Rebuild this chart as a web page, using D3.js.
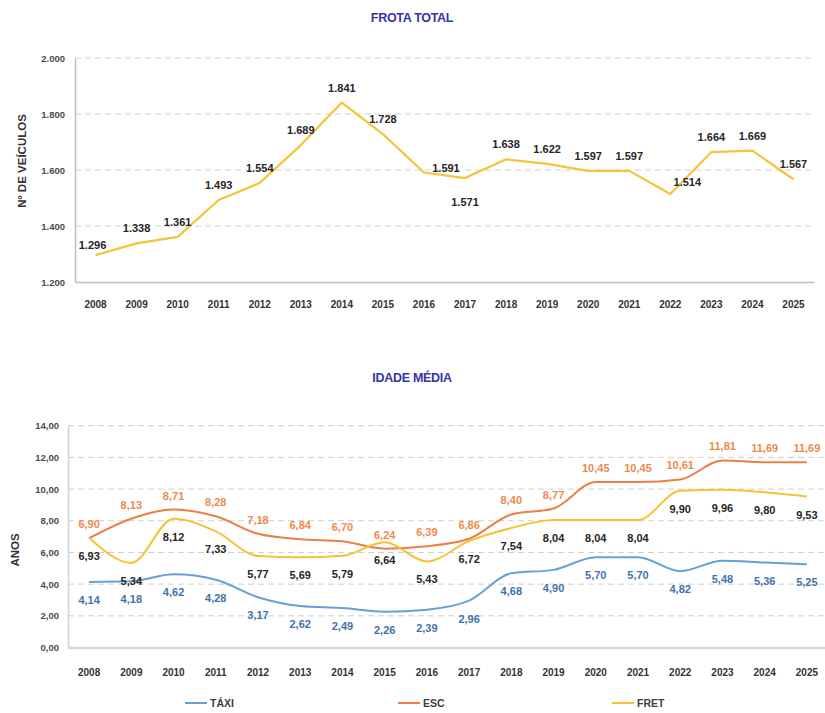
<!DOCTYPE html>
<html>
<head>
<meta charset="utf-8">
<script src="https://cdn.jsdelivr.net/npm/d3@7"></script>
<style>
  html, body { margin: 0; padding: 0; background: #fff; }
  svg { display: block; font-family: "Liberation Sans", Arial, sans-serif; }
</style>
</head>
<body>
<svg id="chart" width="825" height="713"></svg>
<script>
// Fleet size and average age per year
const years = ["2008","2009","2010","2011","2012","2013","2014","2015","2016","2017","2018","2019","2020","2021","2022","2023","2024","2025"];
const frotaTotal = [1296, 1338, 1361, 1493, 1554, 1689, 1841, 1728, 1591, 1571, 1638, 1622, 1597, 1597, 1514, 1664, 1669, 1567];
const frotaTicks = [1200, 1400, 1600, 1800, 2000];

const idadeTaxi = [4.14, 4.18, 4.62, 4.28, 3.17, 2.62, 2.49, 2.26, 2.39, 2.96, 4.68, 4.90, 5.70, 5.70, 4.82, 5.48, 5.36, 5.25];
const idadeEsc  = [6.90, 8.13, 8.71, 8.28, 7.18, 6.84, 6.70, 6.24, 6.39, 6.86, 8.40, 8.77, 10.45, 10.45, 10.61, 11.81, 11.69, 11.69];
const idadeFret = [6.93, 5.34, 8.12, 7.33, 5.77, 5.69, 5.79, 6.64, 5.43, 6.72, 7.54, 8.04, 8.04, 8.04, 9.90, 9.96, 9.80, 9.53];
const idadeTicks = [0, 2, 4, 6, 8, 10, 12, 14];
const seriesNames = ["TÁXI", "ESC", "FRET"];

// Label nudges for the fleet chart (years whose label sits off the default spot)
const frotaLabelNudge = { "2008": [-3, 5], "2016": [22, 10], "2017": [0, 39], "2022": [17, 3] };

const pt = d3.formatLocale({ decimal: ",", thousands: ".", grouping: [3], currency: ["R$", ""] });
const fmtInt = pt.format(",d");
const fmtDec = pt.format(".2f");

const svg = d3.select("#chart");
const titleColor = "#3434a4";
const axisText = "#4a4a4a";
const gridColor = "#cfcfcf";

function title(text, y) {
  svg.append("text").attr("x", 412).attr("y", y)
    .attr("text-anchor", "middle").attr("dominant-baseline", "central")
    .attr("font-size", 12.5).attr("font-weight", "bold")
    .attr("fill", titleColor).attr("letter-spacing", -0.3)
    .text(text);
}

function yTitle(text, x, y) {
  svg.append("text").attr("transform", `translate(${x},${y}) rotate(-90)`)
    .attr("text-anchor", "middle").attr("dominant-baseline", "central")
    .attr("font-size", 11.5).attr("font-weight", "bold").attr("fill", "#333")
    .text(text);
}

// ---------- FROTA TOTAL ----------
{
  const left = 75, right = 814, top = 58, bottom = 282;
  const x = d3.scaleBand().domain(years).range([left, right]);
  const cx = d => x(d) + x.bandwidth() / 2;
  const y = d3.scaleLinear().domain([1200, 2000]).range([bottom, top]);

  title("FROTA TOTAL", 18);
  yTitle("Nº DE VEÍCULOS", 22, 161);

  const g = svg.append("g");
  g.selectAll("line.grid").data(frotaTicks.slice(1)).join("line")
    .attr("x1", left).attr("x2", right)
    .attr("y1", d => y(d)).attr("y2", d => y(d))
    .attr("stroke", gridColor).attr("stroke-width", 1).attr("stroke-dasharray", "6,4");

  const ya = g.append("g").attr("transform", `translate(${left},0)`)
    .call(d3.axisLeft(y).tickValues(frotaTicks).tickFormat(fmtInt).tickSize(0).tickPadding(10));
  ya.select(".domain").attr("stroke", "#bdbdbd").attr("stroke-width", 1.5);
  ya.selectAll("text").attr("font-size", 9.5).attr("font-weight", "bold").attr("fill", axisText)
    .attr("font-family", "'Liberation Sans', Arial, sans-serif");

  const xa = g.append("g").attr("transform", `translate(0,${bottom})`)
    .call(d3.axisBottom(x).tickSize(0).tickPadding(19));
  xa.select(".domain").attr("stroke", "#bdbdbd").attr("stroke-width", 1.5);
  xa.selectAll("text").attr("font-size", 10).attr("font-weight", "bold").attr("fill", "#333")
    .attr("font-family", "'Liberation Sans', Arial, sans-serif");

  const line = d3.line().x((d, i) => cx(years[i])).y(d => y(d));
  g.append("path").datum(frotaTotal).attr("d", line)
    .attr("fill", "none").attr("stroke", "#f4c43a").attr("stroke-width", 2.2)
    .attr("stroke-linejoin", "round");

  g.selectAll("text.lbl").data(frotaTotal).join("text")
    .attr("class", "lbl")
    .attr("x", (d, i) => cx(years[i]) + (frotaLabelNudge[years[i]] ? frotaLabelNudge[years[i]][0] : 0))
    .attr("y", (d, i) => y(d) - 15 + (frotaLabelNudge[years[i]] ? frotaLabelNudge[years[i]][1] : 0))
    .attr("text-anchor", "middle").attr("dominant-baseline", "central")
    .attr("font-size", 11).attr("font-weight", "bold").attr("fill", "#262626")
    .text(d => fmtInt(d));
}

// ---------- IDADE MÉDIA ----------
{
  const left = 68, right = 828, top = 425.7, bottom = 647.5;
  const x = d3.scaleBand().domain(years).range([left, right]);
  const cx = d => x(d) + x.bandwidth() / 2;
  const y = d3.scaleLinear().domain([0, 14]).range([bottom, top]);

  title("IDADE MÉDIA", 378);
  yTitle("ANOS", 15, 550);

  const g = svg.append("g");
  g.selectAll("line.grid").data(idadeTicks.slice(1)).join("line")
    .attr("x1", left).attr("x2", right)
    .attr("y1", d => y(d)).attr("y2", d => y(d))
    .attr("stroke", gridColor).attr("stroke-width", 1).attr("stroke-dasharray", "6,4");

  const ya = g.append("g").attr("transform", `translate(${left},0)`)
    .call(d3.axisLeft(y).tickValues(idadeTicks).tickFormat(fmtDec).tickSize(0).tickPadding(9));
  ya.select(".domain").attr("stroke", "#d2d2d2").attr("stroke-width", 1.5);
  ya.selectAll("text").attr("font-size", 9.5).attr("font-weight", "bold").attr("fill", axisText)
    .attr("font-family", "'Liberation Sans', Arial, sans-serif");

  const xa = g.append("g").attr("transform", `translate(0,${bottom})`)
    .call(d3.axisBottom(x).tickSize(0).tickPadding(21));
  xa.select(".domain").attr("stroke", "#d6d6d6").attr("stroke-width", 2.5);
  xa.selectAll("text").attr("font-size", 10).attr("font-weight", "bold").attr("fill", "#333")
    .attr("font-family", "'Liberation Sans', Arial, sans-serif");

  const series = [
    { name: seriesNames[0], values: idadeTaxi, stroke: "#6a9fd4", label: "#3f72ad", dy: 18 },
    { name: seriesNames[1], values: idadeEsc,  stroke: "#ec7f45", label: "#ef8a4c", dy: -14 },
    { name: seriesNames[2], values: idadeFret, stroke: "#f6c235", label: "#262626", dy: 18 }
  ];

  const line = d3.line().x((d, i) => cx(years[i])).y(d => y(d)).curve(d3.curveMonotoneX);
  g.selectAll("path.serie").data(series).join("path")
    .attr("class", "serie")
    .attr("d", s => line(s.values))
    .attr("fill", "none").attr("stroke", s => s.stroke).attr("stroke-width", 2);

  series.forEach(s => {
    g.selectAll(null).data(s.values).join("text")
      .attr("x", (d, i) => cx(years[i]))
      .attr("y", d => y(d) + s.dy)
      .attr("text-anchor", "middle").attr("dominant-baseline", "central")
      .attr("font-size", 11).attr("font-weight", "bold").attr("fill", s.label)
      .text(d => fmtDec(d));
  });

  // legend
  const legendX = [185, 398, 612];
  const lg = svg.append("g");
  series.forEach((s, i) => {
    lg.append("line").attr("x1", legendX[i]).attr("x2", legendX[i] + 22)
      .attr("y1", 703).attr("y2", 703)
      .attr("stroke", s.stroke).attr("stroke-width", 2);
    lg.append("text").attr("x", legendX[i] + 25).attr("y", 703)
      .attr("dominant-baseline", "central")
      .attr("font-size", 10.5).attr("font-weight", "bold").attr("fill", "#404040")
      .text(s.name);
  });
}
</script>
</body>
</html>
